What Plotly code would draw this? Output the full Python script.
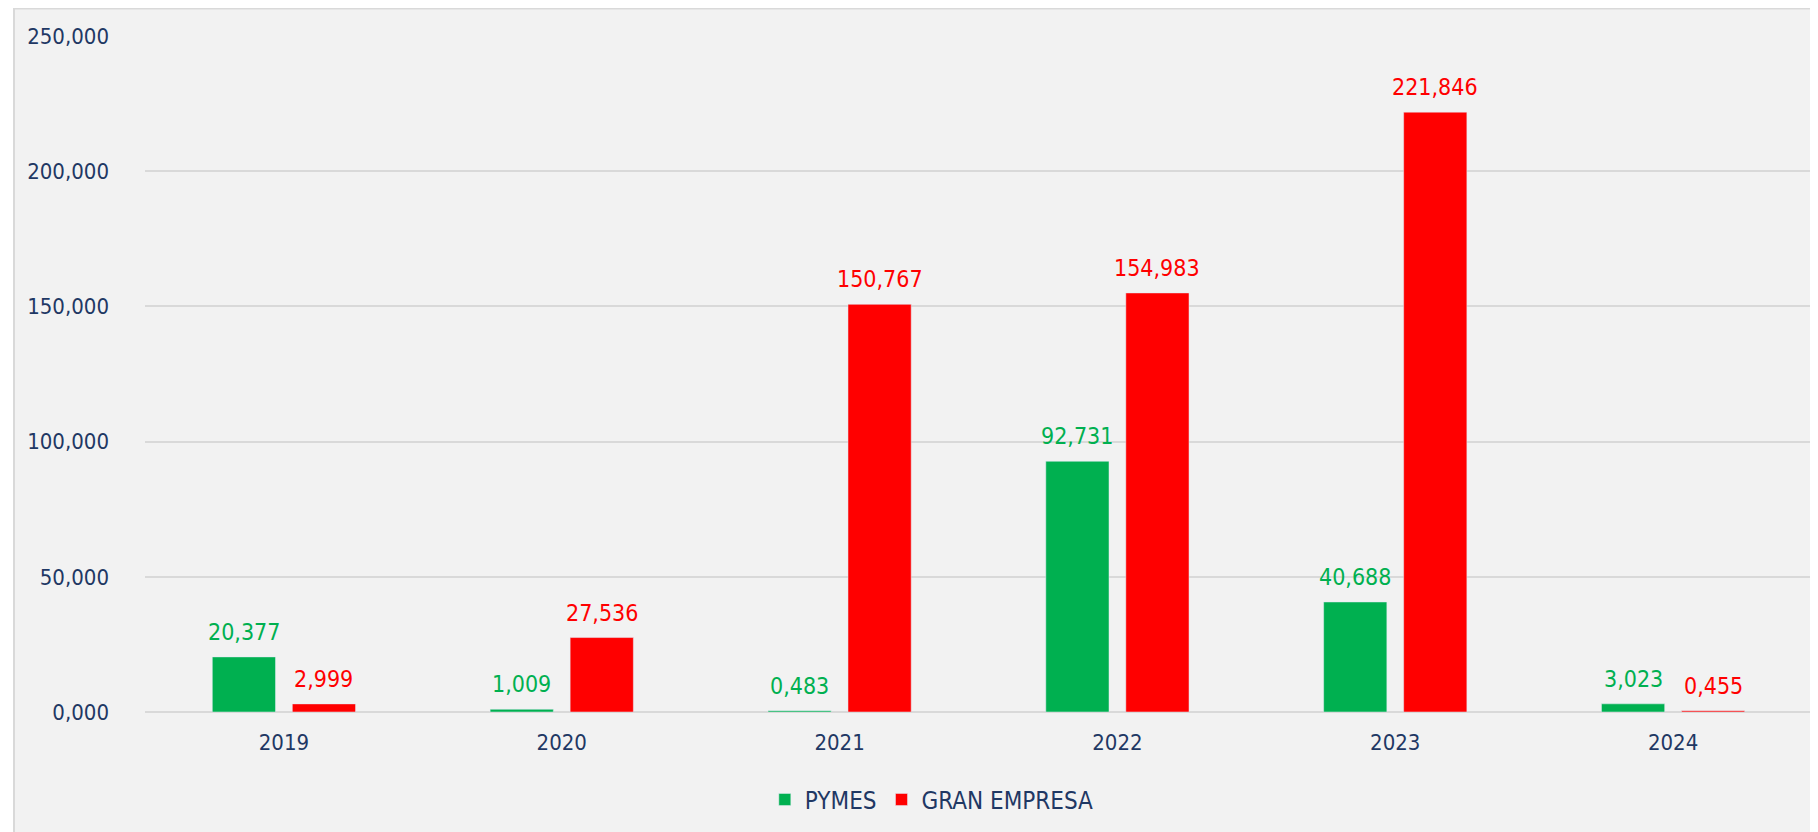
import plotly.graph_objects as go

# Data (comma is the decimal mark)
years = ["2019", "2020", "2021", "2022", "2023", "2024"]
pymes = [20.377, 1.009, 0.483, 92.731, 40.688, 3.023]
gran_empresa = [2.999, 27.536, 150.767, 154.983, 221.846, 0.455]

GREEN = "#00B050"
RED = "#FF0000"
NAVY = "#1F3864"
FONT = "DejaVu Sans Condensed, Liberation Sans Narrow, Arial Narrow, sans-serif"

# plot area (figure px) and bar layout
L, R, T, B = 137, 14, 28, 128
W, H = 1818, 832
BARGAP, GROUPGAP = 0.424, 0.21
cat_w = (W - L - R) / len(years)
bar_shift = cat_w * (1 - BARGAP) / 4  # centre of each bar from category centre

fig = go.Figure()
series = [("PYMES", pymes, GREEN, -bar_shift), ("GRAN EMPRESA", gran_empresa, RED, bar_shift)]
for name, vals, col, dx in series:
    fig.add_trace(go.Bar(x=years, y=vals, name=name, marker=dict(color=col)))
    # value labels sit a bit above each bar (x given as category index)
    for i, v in enumerate(vals):
        fig.add_annotation(
            x=i, y=v, xshift=dx, yshift=10, yanchor="bottom",
            text=f"{v:.3f}".replace(".", ","), showarrow=False,
            font=dict(color=col, size=23, family=FONT),
        )

# grey framed background behind the whole chart
plot_w, plot_h = W - L - R, H - T - B
fig.add_shape(
    type="rect", xref="paper", yref="paper",
    x0=(6 - L) / plot_w, x1=1.03, y0=-0.3, y1=(plot_h + T - 0.5) / plot_h,
    fillcolor="#F2F2F2", line=dict(color="#D9D9D9", width=2),
    layer="below",
)

fig.update_layout(
    width=W, height=H,
    margin=dict(l=L, r=R, t=T, b=B, autoexpand=False),
    paper_bgcolor="white",
    plot_bgcolor="rgba(0,0,0,0)",
    separators=",.",
    barmode="group",
    bargap=BARGAP,
    bargroupgap=GROUPGAP,
    font=dict(family=FONT, size=22, color=NAVY),
    showlegend=True,
    legend=dict(
        orientation="h", x=0.472, xanchor="center", y=-0.13, yanchor="middle",
        font=dict(family=FONT, size=24, color=NAVY),
        itemwidth=30, bgcolor="rgba(0,0,0,0)",
    ),
    xaxis=dict(
        type="category", range=[-0.5, len(years) - 0.5],
        showgrid=False, showline=False, zeroline=False, automargin=False,
        ticks="", ticklabelstandoff=15,
        tickfont=dict(family=FONT, size=22, color=NAVY),
    ),
    yaxis=dict(
        range=[0, 250], dtick=50, tickformat=".3f", automargin=False,
        showgrid=True, gridcolor="#D9D9D9", gridwidth=2,
        zeroline=True, zerolinecolor="#D9D9D9", zerolinewidth=2,
        showline=False, ticks="", ticklabelstandoff=35,
        tickfont=dict(family=FONT, size=22, color=NAVY),
    ),
)

fig.write_html("out.html")
